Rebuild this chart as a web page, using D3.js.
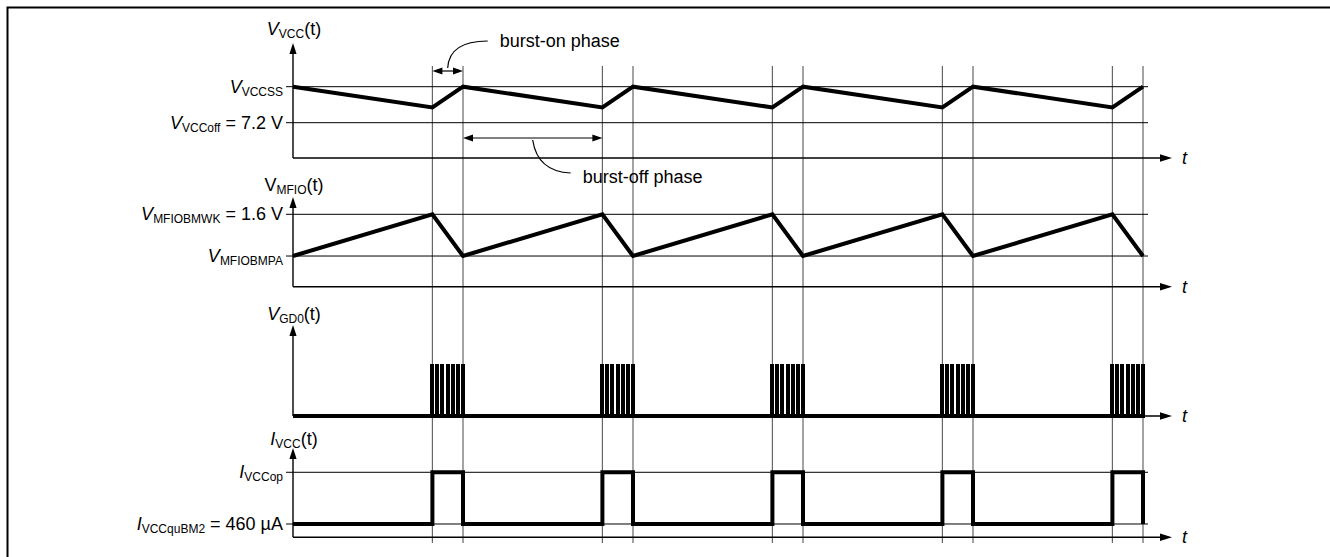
<!DOCTYPE html>
<html>
<head>
<meta charset="utf-8">
<script src="https://cdn.jsdelivr.net/npm/d3@7"></script>
<style>
  html, body { margin: 0; padding: 0; overflow: hidden; background: #fff; }
  svg { display: block; }
  text { font-family: "Liberation Sans", Arial, sans-serif; font-size: 18px; fill: #000; }
</style>
</head>
<body>
<script>
const w = 1330;
const h = 557;

// burst timing (schematic time units)
const burstStart = [8.2, 18.2, 28.2, 38.2, 48.2];
const burstEnd = [10, 20, 30, 40, 50];

// V_VCC waveform (normalised level, 0 = axis, 1 = arrow tip)
const vccTimes = [0, 8.2, 10, 18.2, 20, 28.2, 30, 38.2, 40, 48.2, 50];
const vccValues = [0.62, 0.44, 0.62, 0.44, 0.62, 0.44, 0.62, 0.44, 0.62, 0.44, 0.62];
const vccLevels = [0.62, 0.307];

// V_MFIO waveform
const mfioTimes = [0, 8.2, 10, 18.2, 20, 28.2, 30, 38.2, 40, 48.2, 50];
const mfioValues = [0.342, 0.807, 0.342, 0.807, 0.342, 0.807, 0.342, 0.807, 0.342, 0.807, 0.342];
const mfioLevels = [0.807, 0.342];

// V_GD0 gate pulses: offsets from each burst start, pulse width, pulse height
const gatePulseOffsets = [-0.14, 0.165, 0.47, 0.775, 1.08, 1.385, 1.69];
const gatePulseWidth = 0.25;
const gateHigh = 0.571;

// I_VCC steps
const ivccTimes = [0, 8.2, 10, 18.2, 20, 28.2, 30, 38.2, 40, 48.2, 50];
const ivccValues = [0.149, 0.728, 0.149, 0.728, 0.149, 0.728, 0.149, 0.728, 0.149, 0.728, 0.149];
const ivccLevels = [0.728, 0.149];

const svg = d3.select("body").append("svg").attr("width", w).attr("height", h);

// frame (only top and left edges visible)
svg.append("path").attr("d", "M7.5," + h + "V7.5H" + w)
  .attr("fill", "none").attr("stroke", "#000").attr("stroke-width", 2);

const x = d3.scaleLinear().domain([0, 50]).range([293, 1143]);

const panels = [
  { axisY: 158, tipY: 43, titleY: 35 },
  { axisY: 286.7, tipY: 197, titleY: 191 },
  { axisY: 416, tipY: 325, titleY: 320 },
  { axisY: 537.3, tipY: 448, titleY: 445 }
];
panels.forEach(p => {
  p.y = d3.scaleLinear().domain([0, 1]).range([p.axisY, p.tipY]);
});

function label(x0, y0, parts, anchor) {
  const t = svg.append("text").attr("x", x0).attr("y", y0).attr("text-anchor", anchor);
  let shifted = false;
  parts.forEach(([s, st]) => {
    const ts = t.append("tspan").text(s);
    if (st === "s") {
      ts.attr("font-size", "12px").attr("dy", 3);
      shifted = true;
    } else {
      if (shifted) { ts.attr("dy", -3); shifted = false; }
      if (st === "i") ts.attr("font-style", "italic");
    }
  });
  return t;
}

// vertical guides at burst edges
const edges = burstStart.concat(burstEnd);
svg.selectAll("line.guide").data(edges).enter().append("line")
  .attr("class", "guide")
  .attr("x1", d => x(d)).attr("x2", d => x(d))
  .attr("y1", 66).attr("y2", 543)
  .attr("stroke", "#666").attr("stroke-width", 1.2);

// axes
const axisEnd = x(50) + 29;
panels.forEach(p => {
  svg.append("line").attr("x1", x(0)).attr("x2", axisEnd - 11)
    .attr("y1", p.axisY).attr("y2", p.axisY)
    .attr("stroke", "#000").attr("stroke-width", 1.4);
  svg.append("path")
    .attr("d", `M${axisEnd},${p.axisY}L${axisEnd - 12},${p.axisY - 3.8}L${axisEnd - 12},${p.axisY + 3.8}Z`)
    .attr("fill", "#000");
  svg.append("line").attr("x1", x(0)).attr("x2", x(0))
    .attr("y1", p.axisY).attr("y2", p.tipY + 10)
    .attr("stroke", "#000").attr("stroke-width", 1.4);
  svg.append("path")
    .attr("d", `M${x(0)},${p.tipY}L${x(0) - 3.6},${p.tipY + 11}L${x(0) + 3.6},${p.tipY + 11}Z`)
    .attr("fill", "#000");
  svg.append("text").attr("x", axisEnd + 10).attr("y", p.axisY + 6)
    .attr("font-style", "italic").text("t");
});

// level reference lines
function levels(p, vals) {
  svg.selectAll(null).data(vals).enter().append("line")
    .attr("x1", x(0) - 7).attr("x2", x(50) + 5)
    .attr("y1", d => p.y(d)).attr("y2", d => p.y(d))
    .attr("stroke", "#000").attr("stroke-width", 1);
}
levels(panels[0], vccLevels);
levels(panels[1], mfioLevels);
levels(panels[3], ivccLevels);

// titles
label(294, panels[0].titleY, [["V", "i"], ["VCC", "s"], ["(t)", ""]], "middle");
label(294, panels[1].titleY, [["V", ""], ["MFIO", "s"], ["(t)", ""]], "middle");
label(294, panels[2].titleY, [["V", "i"], ["GD0", "s"], ["(t)", ""]], "middle");
label(294, panels[3].titleY, [["I", "i"], ["VCC", "s"], ["(t)", ""]], "middle");

// level labels
const lx = 283;
label(lx, panels[0].y(vccLevels[0]) + 6, [["V", "i"], ["VCCSS", "s"]], "end");
label(lx, panels[0].y(vccLevels[1]) + 6, [["V", "i"], ["VCCoff", "s"], [" = 7.2 V", ""]], "end");
label(lx, panels[1].y(mfioLevels[0]) + 6, [["V", "i"], ["MFIOBMWK", "s"], [" = 1.6 V", ""]], "end");
label(lx, panels[1].y(mfioLevels[1]) + 6, [["V", "i"], ["MFIOBMPA", "s"]], "end");
label(lx, panels[3].y(ivccLevels[0]) + 6, [["I", "i"], ["VCCop", "s"]], "end");
label(lx, panels[3].y(ivccLevels[1]) + 6, [["I", "i"], ["VCCquBM2", "s"], [" = 460 µA", ""]], "end");

// waveforms
function wave(p, times, vals, curve) {
  const line = d3.line().x(d => x(d[0])).y(d => p.y(d[1])).curve(curve || d3.curveLinear);
  svg.append("path").datum(d3.zip(times, vals)).attr("d", line)
    .attr("fill", "none").attr("stroke", "#000").attr("stroke-width", 4)
    .attr("stroke-linejoin", "miter");
}
wave(panels[0], vccTimes, vccValues);
wave(panels[1], mfioTimes, mfioValues);
wave(panels[3], ivccTimes, ivccValues, d3.curveStepAfter);

// gate drive
const pg = panels[2];
svg.append("line").attr("x1", x(0)).attr("x2", x(50))
  .attr("y1", pg.y(0)).attr("y2", pg.y(0))
  .attr("stroke", "#000").attr("stroke-width", 4);
const pulses = [];
burstStart.forEach(b => gatePulseOffsets.forEach(o => pulses.push(b + o)));
svg.selectAll("rect.pulse").data(pulses).enter().append("rect")
  .attr("class", "pulse")
  .attr("x", d => Math.round(x(d)))
  .attr("width", Math.round(x(gatePulseWidth) - x(0)))
  .attr("y", pg.y(gateHigh))
  .attr("height", pg.y(0) - pg.y(gateHigh) + 1.5)
  .attr("shape-rendering", "crispEdges")
  .attr("fill", "#000");

// annotations
function dblArrow(x1, x2, y) {
  svg.append("line").attr("x1", x1 + 8).attr("x2", x2 - 8).attr("y1", y).attr("y2", y)
    .attr("stroke", "#000").attr("stroke-width", 1.2);
  svg.append("path").attr("d", `M${x1},${y}L${x1 + 10},${y - 3.5}L${x1 + 10},${y + 3.5}Z`).attr("fill", "#000");
  svg.append("path").attr("d", `M${x2},${y}L${x2 - 10},${y - 3.5}L${x2 - 10},${y + 3.5}Z`).attr("fill", "#000");
}
dblArrow(x(burstStart[0]), x(burstEnd[0]), 71);
dblArrow(x(burstEnd[0]), x(burstStart[1]), 138);

const onMid = x((burstStart[0] + burstEnd[0]) / 2);
svg.append("path").attr("d", `M${onMid},68C${onMid + 1},50 ${onMid + 14},41 ${onMid + 40},41`)
  .attr("fill", "none").attr("stroke", "#000").attr("stroke-width", 1.2);
svg.append("text").attr("x", onMid + 52).attr("y", 47).text("burst-on phase");

const offMid = x((burstEnd[0] + burstStart[1]) / 2);
svg.append("path").attr("d", `M${offMid},140C${offMid + 3},160 ${offMid + 15},172 ${offMid + 38},173`)
  .attr("fill", "none").attr("stroke", "#000").attr("stroke-width", 1.2);
svg.append("text").attr("x", offMid + 50).attr("y", 183).text("burst-off phase");
</script>
</body>
</html>
